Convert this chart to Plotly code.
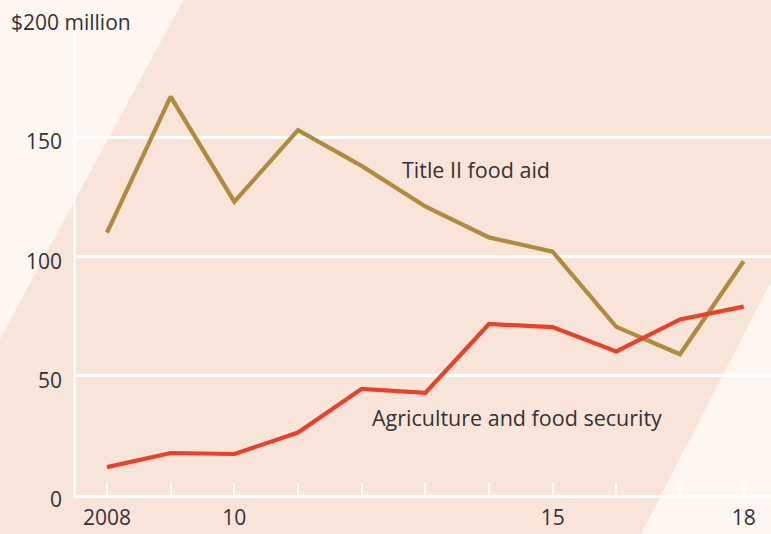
import plotly.graph_objects as go

years = [2008, 2009, 2010, 2011, 2012, 2013, 2014, 2015, 2016, 2017, 2018]
title_ii = [110, 167, 123, 153, 138, 121, 108, 102, 70.5, 59, 98]
agri = [11.7, 17.6, 17.2, 26.2, 44.5, 42.8, 71.7, 70.4, 60.2, 73.6, 79]

x_tickvals = [2008, 2010, 2015, 2018]
x_ticktext = ["2008", "10", "15", "18"]
y_tickvals = [0, 50, 100, 150]
y_ticktext = ["0", "50", "100", "150"]
y_top_label = "$200 million"

series_names = ["Title II food aid", "Agriculture and food security"]

GOLD = "#ae8b3d"
RED = "#e9422b"
PINK = "#f9e4da"
LIGHT = "#fef6f1"
TEXT = "#333333"
FONT = "'Open Sans', sans-serif"
FS = 21

fig = go.Figure()
fig.add_trace(go.Scatter(x=years, y=title_ii, mode="lines", name=series_names[0],
                         line=dict(color=GOLD, width=4.2), hoverinfo="skip"))
fig.add_trace(go.Scatter(x=years, y=agri, mode="lines", name=series_names[1],
                         line=dict(color=RED, width=4.2), hoverinfo="skip"))

W, H = 771, 534
L, R, T, B = 76, 0, 18, 39
pw, ph = W - L - R, H - T - B

def px(x):
    return (x - L) / pw

def py(y):
    return (H - B - y) / ph

shapes = [
    dict(type="path", xref="paper", yref="paper", layer="below",
         path=f"M {px(-5)} {py(-5)} L {px(186)} {py(-5)} L {px(-5)} {py(348)} Z",
         fillcolor=LIGHT, line=dict(width=0)),
    dict(type="path", xref="paper", yref="paper", layer="below",
         path=f"M {px(776)} {py(272)} L {px(776)} {py(540)} L {px(638)} {py(540)} Z",
         fillcolor=LIGHT, line=dict(width=0)),
]

annotations = []
for v, t in zip(y_tickvals, y_ticktext):
    annotations.append(dict(x=px(64), xref="paper", y=v, yref="y", text=t,
                            showarrow=False, xanchor="right", yanchor="middle",
                            yshift=-4, font=dict(size=FS, color=TEXT, family=FONT)))
annotations.append(dict(x=px(9), xref="paper", y=200, yref="y", text=y_top_label,
                        showarrow=False, xanchor="left", yanchor="middle",
                        yshift=-4, font=dict(size=FS, color=TEXT, family=FONT)))
annotations.append(dict(x=2012.6, y=136.5, xref="x", yref="y", text=series_names[0],
                        showarrow=False, xanchor="left", yanchor="middle",
                        font=dict(size=FS + 0.5, color=TEXT, family=FONT)))
annotations.append(dict(x=2012.13, y=32.7, xref="x", yref="y", text=series_names[1],
                        showarrow=False, xanchor="left", yanchor="middle",
                        font=dict(size=FS + 0.5, color=TEXT, family=FONT)))

fig.update_layout(
    width=W, height=H,
    margin=dict(l=L, r=R, t=T, b=B, pad=0),
    paper_bgcolor=PINK, plot_bgcolor="rgba(0,0,0,0)",
    showlegend=False,
    shapes=shapes, annotations=annotations,
    xaxis=dict(range=[2007.513, 2018.43], tickvals=x_tickvals, ticktext=x_ticktext,
               showgrid=False, zeroline=False, showline=True, linecolor="white",
               linewidth=2.5, ticks="inside", ticklen=12, tickwidth=2, tickcolor="white",
               tickfont=dict(size=FS, color=TEXT, family=FONT), ticklabelstandoff=2,
               minor=dict(dtick=1, tick0=2008, ticks="inside", ticklen=12, tickwidth=2,
                          tickcolor="white", showgrid=False),
               fixedrange=True),
    yaxis=dict(range=[0, 200], tickvals=[0, 50, 100, 150, 200], showticklabels=False,
               showgrid=True, gridcolor="white", gridwidth=2.5, zeroline=False,
               showline=True, linecolor="white", linewidth=2.5, ticks="",
               fixedrange=True),
)

fig.write_html("out.html", config={"displayModeBar": False},
               post_script="document.body.style.margin='0';document.body.style.padding='0';document.body.style.background='%s';" % PINK)
